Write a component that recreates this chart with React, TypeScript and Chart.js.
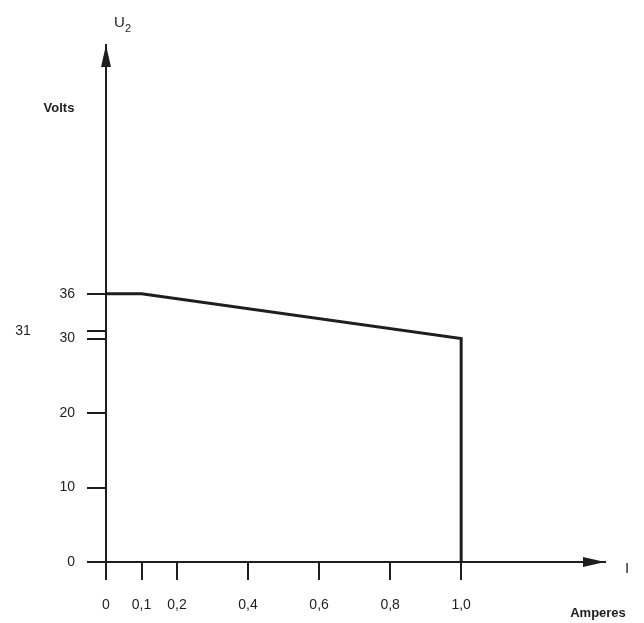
import React, { useEffect, useRef } from 'react';
import { Chart, registerables } from 'chart.js';

Chart.register(...registerables);

// Data
const currentA = [0, 0.1, 1.0, 1.0];
const voltageV = [36, 36, 30, 0];
const xTickValues = [0, 0.1, 0.2, 0.4, 0.6, 0.8, 1.0];
const xTickLabels = ['0', '0,1', '0,2', '0,4', '0,6', '0,8', '1,0'];
const yTickValues = [0, 10, 20, 30, 31, 36];
const yTickLabels = ['0', '10', '20', '30', '', '36'];
const strayLabelValue = 31;
const strayLabelText = '31';
const xAxisMax = 1.405;
const yAxisMax = 69.4;

const INK = '#1e1e1e';
const FONT = '"Liberation Sans", Arial, sans-serif';

const decorPlugin = {
  id: 'decor',
  afterDraw(chart: any) {
    const ctx = chart.ctx as CanvasRenderingContext2D;
    const xs = chart.scales.x;
    const ys = chart.scales.y;
    const x0 = xs.getPixelForValue(0);
    const y0 = ys.getPixelForValue(0);
    const yTop = ys.getPixelForValue(yAxisMax);
    const xRight = xs.getPixelForValue(xAxisMax);
    ctx.save();
    ctx.fillStyle = INK;
    // y-axis arrowhead
    ctx.beginPath();
    ctx.moveTo(x0, yTop);
    ctx.lineTo(x0 - 5, yTop + 22);
    ctx.lineTo(x0 + 5, yTop + 22);
    ctx.closePath();
    ctx.fill();
    // x-axis arrowhead
    ctx.beginPath();
    ctx.moveTo(xRight, y0);
    ctx.lineTo(xRight - 22, y0 - 5);
    ctx.lineTo(xRight - 22, y0 + 5);
    ctx.closePath();
    ctx.fill();

    ctx.textBaseline = 'middle';
    // U2 label
    ctx.font = `15px ${FONT}`;
    ctx.textAlign = 'left';
    ctx.fillText('U', x0 + 8, yTop - 22);
    ctx.font = `11px ${FONT}`;
    ctx.fillText('2', x0 + 19, yTop - 16);
    // Volts
    ctx.font = `bold 13px ${FONT}`;
    ctx.textAlign = 'center';
    ctx.fillText('Volts', 59, 108);
    // I
    ctx.font = `15px ${FONT}`;
    ctx.fillText('I', xRight + 22, y0 + 7);
    // Amperes
    ctx.font = `bold 13px ${FONT}`;
    ctx.fillText('Amperes', 598, 613);
    // stray 31
    ctx.font = `14px ${FONT}`;
    ctx.fillText(strayLabelText, 23, ys.getPixelForValue(strayLabelValue));
    ctx.restore();
  },
};

export default function App() {
  const ref = useRef<HTMLCanvasElement | null>(null);
  useEffect(() => {
    if (!ref.current) return;
    const chart = new Chart(ref.current, {
      type: 'scatter',
      data: {
        datasets: [
          {
            data: currentA.map((x, i) => ({ x, y: voltageV[i] })),
            showLine: true,
            borderColor: INK,
            backgroundColor: INK,
            borderWidth: 3,
            pointRadius: 0,
            tension: 0,
          },
        ],
      },
      options: {
        responsive: false,
        animation: false,
        layout: { padding: { top: 45, right: 39, left: 0, bottom: 0 } },
        plugins: { legend: { display: false }, tooltip: { enabled: false } },
        scales: {
          x: {
            type: 'linear',
            min: 0,
            max: xAxisMax,
            afterFit: (s: any) => { s.height = 61; },
            afterBuildTicks: (s: any) => { s.ticks = xTickValues.map((v) => ({ value: v })); },
            grid: { display: true, drawOnChartArea: false, drawTicks: true, tickLength: 18, color: INK, lineWidth: 2 },
            border: { display: true, color: INK, width: 2 },
            ticks: {
              autoSkip: false,
              maxRotation: 0,
              padding: 17,
              color: INK,
              font: { family: FONT, size: 14 },
              callback: (_v: any, i: number) => xTickLabels[i],
            },
          },
          y: {
            type: 'linear',
            min: 0,
            max: yAxisMax,
            afterFit: (s: any) => { s.width = 106; },
            afterBuildTicks: (s: any) => { s.ticks = yTickValues.map((v) => ({ value: v })); },
            grid: { display: true, drawOnChartArea: false, drawTicks: true, tickLength: 19, color: INK, lineWidth: 2 },
            border: { display: true, color: INK, width: 2 },
            ticks: {
              autoSkip: false,
              padding: 12,
              color: INK,
              font: { family: FONT, size: 14 },
              callback: (_v: any, i: number) => yTickLabels[i],
            },
          },
        },
      },
      plugins: [decorPlugin],
    });
    return () => chart.destroy();
  }, []);
  return (
    <div style={{ position: 'absolute', left: 0, top: 0, width: 644, height: 623, background: '#fff' }}>
      <canvas ref={ref} width={644} height={623} style={{ display: 'block' }} />
    </div>
  );
}
